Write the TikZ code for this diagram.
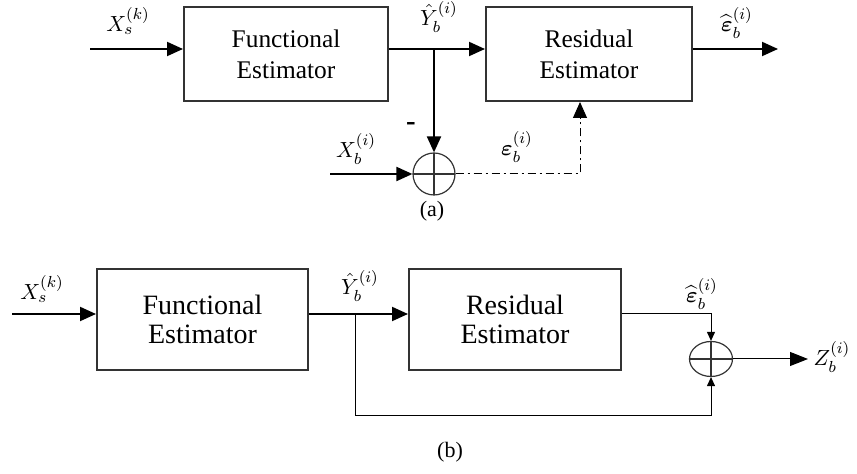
\documentclass[tikz,border=0pt]{standalone}
\usepackage{amsmath}
\usepackage{fontspec}
\setmainfont{Liberation Serif}
\usepackage{tikz}
\usetikzlibrary{arrows.meta, shapes.geometric}

\begin{document}
\begin{tikzpicture}[x=0.5pt, y=-0.5pt,
  block/.style={draw=black!80, line width=1pt, align=center, inner sep=0pt, font=\fontsize{12.7}{15.5}\selectfont},
  sig/.style={line width=1pt, -{Triangle[length=8pt,width=7pt]}},
  thinsig/.style={line width=0.5pt, -{Triangle[length=4.5pt,width=4pt]}},
  cross/.style={inner sep=0pt, line width=0.6pt, draw=black!80,
    path picture={\draw[line width=0.6pt] (path picture bounding box.north) -- (path picture bounding box.south)
      (path picture bounding box.west) -- (path picture bounding box.east);}},
  lbl/.style={inner sep=0.5pt, font=\fontsize{11}{13}\selectfont}]
  \useasboundingbox (0,0) rectangle (857,474);

  % (a) estimation of the residual
  \node[block, minimum width=102pt, minimum height=47pt] (funA) at (286,54) {Functional\\ Estimator};
  \node[block, minimum width=103pt, minimum height=47pt] (resA) at (589,54) {Residual\\ Estimator};
  \node[cross, circle, minimum size=21pt] (sumA) at (434,174) {};
  \coordinate (xsA) at (90,49);
  \coordinate (tapA) at (434,49);
  \coordinate (xbA) at (330,174);
  \coordinate (cornA) at (580,174);
  \coordinate (outA) at (778,49);

  \draw[sig] (xsA) -- (funA.west |- xsA);
  \draw[sig] (funA.east |- tapA) -- (resA.west |- tapA);
  \draw[sig] (tapA) -- (sumA.north);
  \draw[sig] (xbA) -- (sumA.west);
  \draw[line width=0.5pt, dash pattern=on 4pt off 2pt on 1pt off 2pt, -{Triangle[length=8pt,width=7pt]}]
    (sumA.east) -- (cornA) -- (cornA |- resA.south);
  \draw[sig] (resA.east |- outA) -- (outA);

  \node[lbl] (xsAl) at (128,21) {$X_s^{(k)}$};
  \node[lbl] (yA) at (439,17) {$\hat{Y}_b^{(i)}$};
  \node[lbl] (ehatA) at (737,23) {$\widehat{\boldsymbol{\varepsilon}}_b^{(i)}$};
  \node[inner sep=0pt, font=\bfseries\Large] (minus) at (411,127) {-};
  \node[lbl] (xbAl) at (356,149) {$X_b^{(i)}$};
  \node[lbl] (epsA) at (517,147) {$\boldsymbol{\varepsilon}_b^{(i)}$};
  \node[lbl] (capA) at (432,211) {(a)};

  % (b) combined output
  \node[block, minimum width=105.5pt, minimum height=50.5pt, font=\fontsize{14}{14.5}\selectfont] (funB) at (202.5,319.5) {Functional\\ Estimator};
  \node[block, minimum width=106pt, minimum height=50.5pt, font=\fontsize{14}{14.5}\selectfont] (resB) at (515,319.5) {Residual\\ Estimator};
  \node[cross, ellipse, minimum width=21.5pt, minimum height=17.5pt] (sumB) at (711,359) {};
  \coordinate (xsB) at (12,314);
  \coordinate (tapB) at (355,314);
  \coordinate (botB) at (355,416);
  \coordinate (outB) at (808,359);

  \draw[sig] (xsB) -- (funB.west |- xsB);
  \draw[sig] (funB.east |- tapB) -- (resB.west |- tapB);
  \draw[thinsig] (resB.east |- tapB) -- (sumB |- tapB) -- (sumB.north);
  \draw[thinsig] (tapB) -- (botB) -- (sumB |- botB) -- (sumB.south);
  \draw[line width=0.5pt, -{Triangle[length=9pt,width=7pt]}] (sumB.east) -- (outB);

  \node[lbl] (xsBl) at (42,289) {$X_s^{(k)}$};
  \node[lbl] (yB) at (360,286) {$\hat{Y}_b^{(i)}$};
  \node[lbl] (ehatB) at (702,294) {$\widehat{\boldsymbol{\varepsilon}}_b^{(i)}$};
  \node[lbl] (zB) at (832,357) {$Z_b^{(i)}$};
  \node[lbl] (capB) at (450,452) {(b)};
\end{tikzpicture}
\end{document}
